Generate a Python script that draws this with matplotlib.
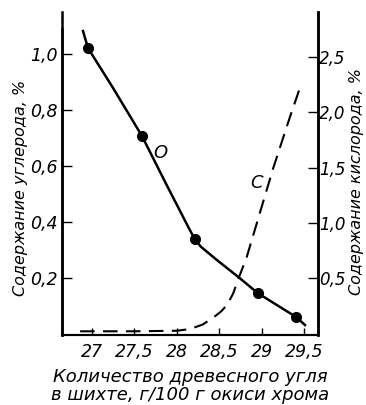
import matplotlib.pyplot as plt

# curve O (carbon, left axis), marked points
o_pts_x = [26.953, 27.588, 28.21, 28.95, 29.4]
o_pts_y = [1.021, 0.707, 0.339, 0.146, 0.061]
# curve O traced line
o_line_x = [26.894, 26.953, 27.247, 27.588, 27.882, 28.035, 28.15, 28.21,
            28.28, 28.47, 28.72, 28.95, 29.4, 29.506]
o_line_y = [1.082, 1.021, 0.879, 0.707, 0.53, 0.44, 0.372, 0.339,
            0.312, 0.264, 0.204, 0.146, 0.061, 0.032]
# curve C (oxygen, right axis)
c_x = [26.86, 27.5, 28.0, 28.15, 28.3, 28.42, 28.52, 28.59, 28.66, 28.72,
       28.82, 28.94, 29.13, 29.33, 29.45]
c_y = [0.02, 0.02, 0.025, 0.04, 0.08, 0.14, 0.2, 0.26, 0.36, 0.49,
       0.69, 1.0, 1.49, 1.96, 2.23]

x_ticks = [27, 27.5, 28, 28.5, 29, 29.5]
x_labels = ['27', '27,5', '28', '28,5', '29', '29,5']
l_ticks = [0.2, 0.4, 0.6, 0.8, 1.0]
l_labels = ['0,2', '0,4', '0,6', '0,8', '1,0']
r_ticks = [0.5, 1.0, 1.5, 2.0, 2.5]
r_labels = ['0,5', '1,0', '1,5', '2,0', '2,5']

plt.rcParams['font.family'] = ['Liberation Sans Narrow', 'DejaVu Sans']
plt.rcParams['font.style'] = 'italic'

fig = plt.figure(figsize=(3.66, 4.05), dpi=100)
W, H = 366, 405
ax = fig.add_axes([62 / W, (H - 335) / H, (318 - 62) / W, (335 - 12) / H])
ax2 = ax.twinx()

ax.plot(o_line_x, o_line_y, color='black', lw=1.8)
ax.plot(o_pts_x, o_pts_y, 'o', color='black', ms=7)
ax2.plot(c_x, c_y, color='black', lw=1.5, dashes=(7, 4))

ax.set_xlim(26.647, 29.659)
ax.set_ylim(-1 / 280, 322 / 280)
ax2.set_ylim(-1.5 / 110.6, 321.5 / 110.6)

for a in (ax, ax2):
    a.spines['top'].set_visible(False)
    a.spines['left'].set_linewidth(1.8)
    a.spines['right'].set_linewidth(1.8)
    a.spines['bottom'].set_linewidth(1.5)
ax.spines['left'].set_bounds(-1 / 280, 1.09)

ax.set_xticks(x_ticks, x_labels, fontsize=12.5)
ax.set_yticks(l_ticks, l_labels, fontsize=12.5)
ax2.set_yticks(r_ticks, r_labels, fontsize=12)
ax.tick_params(axis='x', direction='in', length=5, width=1, pad=6)
ax.tick_params(axis='y', direction='in', length=7, width=1, pad=3)
ax2.tick_params(axis='y', direction='in', length=7, width=1, pad=1)

ax.set_ylabel('Содержание углерода, %', fontsize=11.5)
ax.yaxis.set_label_coords(-0.133, 0.455)
ax2.set_ylabel('Содержание кислорода, %', fontsize=11.5, rotation=90)
ax2.yaxis.set_label_coords(1.122, 0.474)
ax.set_xlabel('Количество древесного угля\nв шихте, г/100 г окиси хрома',
              fontsize=13, labelpad=5, linespacing=0.95)

ax.text(27.8, 0.646, 'О', fontsize=13, ha='center', va='center')
ax2.text(28.94, 1.36, 'С', fontsize=13, ha='center', va='center')

fig.savefig('out.png', dpi=100)
